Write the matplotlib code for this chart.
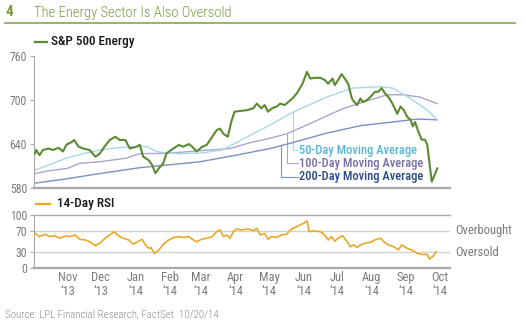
import matplotlib
matplotlib.use("Agg")
import matplotlib.pyplot as plt
import matplotlib.transforms as mtransforms
from matplotlib import font_manager
import numpy as np
import pandas as pd

# ---- data -------------------------------------------------------------
start_date = "2013-10-16"

energy_days = [1, 2, 5, 8, 13, 17, 22, 26, 29, 34, 36, 40, 44, 50, 55, 59, 64, 68, 73, 77,
               82, 86, 92, 95, 98, 103, 106, 109, 112, 116, 119, 125, 130, 134, 139, 142, 146, 151, 155, 160,
               164, 167, 170, 174, 177, 180, 185, 191, 197, 200, 204, 207, 210, 214, 218, 221, 225, 232, 236, 241,
               245, 248, 252, 257, 261, 264, 268, 270, 273, 276, 279, 282, 285, 286, 290, 293, 295, 299, 302, 306,
               309, 312, 315, 318, 321, 324, 326, 329, 332, 335, 338, 340, 342, 345, 348, 351, 353, 355, 357, 359,
               362]
energy_vals = [627.5, 632, 625, 632, 634, 632, 635, 630, 639, 643, 645.6, 636.5, 634, 632, 623, 627, 638, 645.6, 650, 645.6,
               645.6, 634, 636.5, 639, 623, 618, 611.6, 600.4, 607, 614, 627.5, 634, 638.8, 636.5, 640, 636.5, 630, 636.5, 638.8, 650,
               659, 661, 654, 650, 670, 684, 685, 686, 688.6, 695, 688.6, 693, 684, 689, 691, 695, 693, 702, 709, 722,
               738, 729, 730, 730, 727, 722, 729, 720, 727, 735, 729, 722, 704, 700, 693, 702, 697, 700, 704, 711,
               711, 716, 709, 704, 697, 688, 681, 691, 686, 677, 673, 664, 670, 657, 646, 646, 639, 614, 589, 596,
               607]

ma50_days = [1, 14, 29, 44, 59, 75, 89, 98, 102, 107, 113, 120, 131, 151, 169, 189, 203, 212, 232, 263,
             286, 311, 322, 338, 353, 362]
ma50_vals = [605, 612, 621, 627, 632, 635, 636.5, 637, 636, 632, 629, 628, 627, 628, 632, 648, 659, 666, 683, 704,
             716, 718, 716, 702, 686, 673]

ma100_days = [1, 14, 30, 41, 59, 83, 95, 119, 149, 176, 194, 212, 227, 248, 277, 302, 317, 331, 346, 362]
ma100_vals = [600, 604, 607, 614, 616, 621, 627, 627.5, 631, 634, 642, 648, 654, 668, 688, 700, 707, 707, 704, 695]

ma200_days = [1, 30, 59, 95, 149, 185, 212, 222, 232, 263, 284, 293, 322, 344, 362]
ma200_vals = [587, 593, 600, 608, 616, 626, 634, 638, 642, 655, 662, 665, 670, 674, 673]

rsi_days = [1, 5, 10, 14, 19, 23, 28, 32, 37, 41, 46, 50, 55, 59, 64, 68, 72, 76, 80, 85,
            89, 94, 97, 100, 103, 105, 108, 112, 116, 121, 125, 130, 134, 139, 143, 146, 151, 155, 160, 164,
            167, 170, 173, 176, 179, 182, 186, 192, 197, 200, 203, 207, 210, 213, 218, 222, 227, 230, 234, 239,
            242, 245, 247, 251, 257, 261, 264, 267, 270, 273, 277, 281, 284, 287, 290, 293, 297, 302, 306, 311,
            314, 318, 323, 327, 330, 335, 339, 344, 348, 353, 355, 358, 361]
rsi_vals = [65.6, 59.4, 63.8, 59.4, 61, 56.5, 60.6, 59.4, 62.5, 54.4, 53.2, 50, 42.5, 47, 56.5, 62.5, 68.8, 61, 56.5, 53.2,
            45, 51, 54.4, 43.8, 37.5, 38.8, 28, 34, 45, 53.2, 57.5, 59.4, 58, 59.4, 53.2, 50, 55, 56.5, 59.4, 68.8,
            71.9, 59.4, 62.5, 56.5, 68.8, 73.8, 71.9, 73.8, 70.6, 75, 62.5, 65.6, 54.4, 59.4, 58, 62.5, 64.4, 71.9, 76.3, 81.3,
            84.4, 88.8, 68.8, 70, 68.8, 62.5, 53.2, 59.4, 51, 56.5, 61, 50, 40.6, 43.8, 38.8, 43.8, 47, 48.8, 53.2, 56.5,
            50, 43.8, 40.6, 34.4, 43.8, 37.5, 34.4, 28.1, 26, 26, 17.5, 21.9, 31.3]

month_labels = ["Nov\n\u201813", "Dec\n\u201813", "Jan\n\u201814", "Feb\n\u201814", "Mar\n\u201814",
                "Apr\n\u201814", "May\n\u201814", "Jun\n\u201814", "Jul\n\u201814", "Aug\n\u201814",
                "Sep\n\u201814", "Oct\n\u201814"]
month_label_dates = ["2013-11-15", "2013-12-15", "2014-01-15", "2014-02-15", "2014-03-15", "2014-04-15",
                     "2014-05-15", "2014-06-15", "2014-07-15", "2014-08-15", "2014-09-15", "2014-10-15"]

price_ticks = [580, 640, 700, 760]
rsi_ticks = [0, 30, 70, 100]
rsi_levels = [70, 30]
rsi_level_names = ["Overbought", "Oversold"]

# ---- styling ----------------------------------------------------------
available = {f.name for f in font_manager.fontManager.ttflist}
cond = "Roboto Condensed" if "Roboto Condensed" in available else "DejaVu Sans"
plt.rcParams["font.family"] = [cond, "DejaVu Sans"]

GREEN = "#5b8a33"
TITLE_GREEN = "#7a9a42"
ORANGE = "#e8a825"
MA50_LINE, MA50_TEXT = "#a9d7e6", "#5cb6d6"
MA100_LINE, MA100_TEXT = "#aaa5cc", "#7670a8"
MA200_LINE, MA200_TEXT = "#7f8fc0", "#2d4a85"
SPINE = "#a8a8a8"
TICKTXT = "#7a7a7a"
GRID = "#d2d2d2"

W, H = 525, 326
fig = plt.figure(figsize=(W / 100, H / 100), dpi=100)

def fx(px):
    return px / W

def fy(py):
    return 1 - py / H

t0 = pd.Timestamp(start_date)
tick_pos = [(pd.Timestamp(d) - t0).days for d in month_label_dates]
xmin, xmax = 0, 373.4

# ---- price panel ------------------------------------------------------
ax = fig.add_axes([fx(34), fy(188.3), fx(416), 132.6 / H])
ax.plot(ma200_days, ma200_vals, color=MA200_LINE, lw=1.0, zorder=2)
ax.plot(ma100_days, ma100_vals, color=MA100_LINE, lw=1.0, zorder=2)
ax.plot(ma50_days, ma50_vals, color=MA50_LINE, lw=1.0, zorder=2)
ax.plot(energy_days, energy_vals, color=GREEN, lw=1.5, zorder=3)
ax.set_xlim(xmin, xmax)
ax.set_ylim(580, 760)
ax.set_yticks(price_ticks)
ax.set_xticks([])
for s in ["top", "right"]:
    ax.spines[s].set_visible(False)
ax.spines["left"].set_color(SPINE)
ax.spines["left"].set_linewidth(0.8)
ax.spines["bottom"].set_color(SPINE)
ax.spines["bottom"].set_linewidth(1.6)
ax.tick_params(axis="y", length=3, width=0.8, color=SPINE, labelcolor=TICKTXT, labelsize=8.5, pad=2)

# moving-average labels with elbow leaders
label_x = 299
labels = [("50-Day Moving Average", 292.7, 150.0, ma50_days, ma50_vals, MA50_LINE, MA50_TEXT),
          ("100-Day Moving Average", 286.7, 163.0, ma100_days, ma100_vals, MA100_LINE, MA100_TEXT),
          ("200-Day Moving Average", 280.7, 176.5, ma200_days, ma200_vals, MA200_LINE, MA200_TEXT)]
px_per_day = 416 / xmax
val_per_px = 180 / 132.6
for text, lx, ly, dd, vv, lc, tc in labels:
    xd = (lx - 34) / px_per_day
    y_curve = float(np.interp(xd, dd, vv))
    y_lab = 760 - (ly - 55.7) * val_per_px
    x_end = (label_x - 1 - 34) / px_per_day
    ax.plot([xd, xd, x_end], [y_curve, y_lab, y_lab], color=lc, lw=0.8, zorder=1)
    ax.text((label_x - 34) / px_per_day, y_lab, text, color=tc, fontsize=9,
            va="center", ha="left", fontweight="medium")

# ---- RSI panel --------------------------------------------------------
ax2 = fig.add_axes([fx(34), fy(268.3), fx(416), 53.3 / H])
for lv in rsi_levels:
    ax2.axhline(lv, color=GRID, lw=1.0, zorder=1)
ax2.plot(rsi_days, rsi_vals, color=ORANGE, lw=1.2, zorder=3)
ax2.set_xlim(xmin, xmax)
ax2.set_ylim(0, 100)
ax2.set_yticks(rsi_ticks)
ax2.set_xticks(tick_pos)
ax2.set_xticklabels(month_labels)
ax2.spines["right"].set_visible(False)
ax2.spines["top"].set_color(SPINE)
ax2.spines["top"].set_linewidth(1.0)
ax2.spines["left"].set_color(SPINE)
ax2.spines["left"].set_linewidth(0.8)
ax2.spines["bottom"].set_color(SPINE)
ax2.spines["bottom"].set_linewidth(1.6)
ax2.tick_params(axis="y", length=3, width=0.8, color=SPINE, labelcolor=TICKTXT, labelsize=8.5, pad=2)
ax2.tick_params(axis="x", length=0, labelcolor=TICKTXT, labelsize=9, pad=2)
for lbl in ax2.get_xticklabels():
    lbl.set_linespacing(1.05)
tr = mtransforms.blended_transform_factory(ax2.transAxes, ax2.transData)
for lv, name in zip(rsi_levels, rsi_level_names):
    ax2.text(1.012, lv, name, transform=tr, color=TICKTXT, fontsize=9, va="center", ha="left")

# ---- legends, title, source ------------------------------------------
fig.add_artist(plt.Line2D([fx(35), fx(47)], [fy(41.5), fy(41.5)], color=GREEN, lw=1.6))
fig.text(fx(51), fy(42), "S&P 500 Energy", fontsize=9.5, color="#1a1a1a", va="center", ha="left",
         fontweight="medium")
fig.add_artist(plt.Line2D([fx(36), fx(50)], [fy(204), fy(204)], color=ORANGE, lw=1.6))
fig.text(fx(57), fy(204), "14-Day RSI", fontsize=9.5, color="#1a1a1a", va="center", ha="left",
         fontweight="medium")

fig.text(fx(5), fy(12.5), "4", fontsize=11, color=TITLE_GREEN, va="center", ha="left", fontweight="bold")
fig.text(fx(34), fy(12.5), "The Energy Sector Is Also Oversold", fontsize=10.5, color=TITLE_GREEN,
         va="center", ha="left", fontweight="light")
fig.add_artist(plt.Line2D([fx(5), fx(515)], [fy(23.3), fy(23.3)], color="#86a551", lw=1.2))

fig.text(fx(5), fy(314.5), "Source: LPL Financial Research, FactSet  10/20/14", fontsize=7.8,
         color="#8a8a8a", va="center", ha="left", fontweight="light")

fig.savefig("out.png", dpi=100)
